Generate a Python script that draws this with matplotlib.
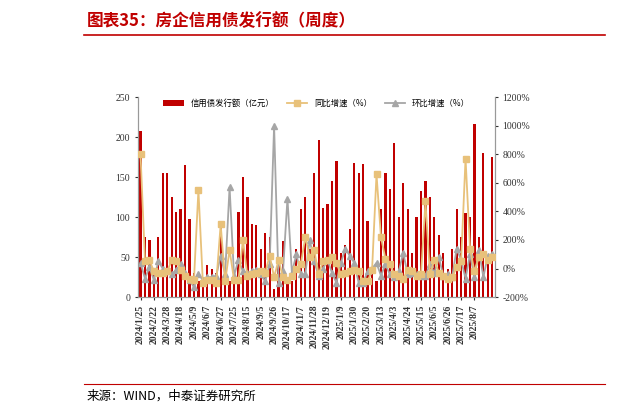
import matplotlib
matplotlib.use("Agg")
import matplotlib.pyplot as plt
import numpy as np
from matplotlib.ticker import FuncFormatter

plt.rcParams['font.family'] = ['Noto Sans CJK SC', 'DejaVu Sans']

tick_labels = ["2024/1/25","2024/2/22","2024/3/28","2024/4/18","2024/5/9","2024/6/7","2024/6/27","2024/7/25",
               "2024/8/15","2024/9/5","2024/9/26","2024/10/17","2024/11/7","2024/11/28","2024/12/19","2025/1/9",
               "2025/1/30","2025/2/20","2025/3/13","2025/4/3","2025/4/24","2025/5/15","2025/6/5","2025/6/26",
               "2025/7/17","2025/8/7"]
issuance = [208,75,72,30,75,155,155,125,107,110,
            165,98,30,20,22,40,35,30,90,20,
            20,25,107,150,125,92,90,60,80,75,
            10,50,70,25,20,60,110,125,60,155,
            197,112,117,145,170,55,65,85,168,155,
            167,95,37,20,110,155,135,193,100,143,
            110,55,100,133,145,125,100,78,55,35,
            60,110,75,105,100,217,75,180,50,175]
yoy = [800,50,60,-20,-30,-30,-20,60,50,-10,
       -50,-70,-80,550,-100,-80,-80,-100,310,-90,
       130,-80,-80,200,-50,-40,-30,-20,-30,90,
       -60,60,-60,-80,-50,0,30,220,80,130,
       -40,50,60,80,40,-40,-30,-20,-10,-20,
       -90,-90,-10,660,220,70,30,-40,-50,-70,
       -10,-20,-50,-40,470,-40,60,-30,-50,-70,
       -60,10,50,770,140,-20,80,100,60,80]
mom = [40,-70,10,-80,50,0,-20,-40,-10,30,
       -30,-80,-130,-40,-80,-60,-60,-50,90,-40,
       570,-50,60,-20,-30,-20,-10,-40,-90,30,
       1000,-100,-20,490,-30,100,-40,-40,200,50,
       -50,0,60,-30,-100,40,140,90,40,-100,
       -100,-20,0,40,-50,30,-40,-60,-20,110,
       -40,-30,-40,-50,-50,30,-30,80,-50,-40,
       -60,140,60,-70,100,-60,130,-60,90,100]

x = np.arange(len(issuance))
fig = plt.figure(figsize=(6.21, 4.15), dpi=100)
fig.text(0.14, 0.948, "图表35：房企信用债发行额（周度）", color="#C00000", fontsize=12,
         fontweight="bold", style="italic", va="center")
fig.add_artist(plt.Line2D([0.135, 0.975], [0.915, 0.915], color="#C00000", lw=1.2))
fig.add_artist(plt.Line2D([0.135, 0.975], [0.075, 0.075], color="#C00000", lw=0.8))
fig.text(0.14, 0.045, "来源：WIND，中泰证券研究所", fontsize=9, va="center")

ax = fig.add_axes([0.222, 0.284, 0.575, 0.482])
ax.bar(x, issuance, width=0.5, color="#C00000", label="信用债发行额（亿元）", zorder=1)
ax.set_ylim(0, 250)
ax.set_yticks(range(0, 251, 50))
ax.set_xlim(-0.6, len(x) - 0.4)
ax2 = ax.twinx()
ax2.plot(x, yoy, color="#E8C17A", marker="s", ms=4, lw=1.3, label="同比增速（%）", zorder=3)
ax2.plot(x, mom, color="#A6A6A6", marker="^", ms=4, lw=1.3, label="环比增速（%）", zorder=2)
ax2.set_ylim(-200, 1200)
ax2.set_yticks(range(-200, 1201, 200))
ax2.yaxis.set_major_formatter(FuncFormatter(lambda v, p: f"{int(v)}%"))
ax.set_xticks(x[::3][:len(tick_labels)])
ax.set_xticklabels(tick_labels, rotation=90, fontsize=6.5, family="Liberation Serif", fontweight="bold")
for a in (ax, ax2):
    a.tick_params(labelsize=7, length=2, colors="#333333")
    for s in a.spines.values():
        s.set_color("#999999")
    a.spines['top'].set_visible(False)
for lab in ax.get_yticklabels() + ax2.get_yticklabels():
    lab.set_family("Liberation Serif")

h1, l1 = ax.get_legend_handles_labels()
h2, l2 = ax2.get_legend_handles_labels()
ax2.legend(h1 + h2, l1 + l2, loc="upper center", bbox_to_anchor=(0.5, 1.03), ncol=3,
           frameon=False, fontsize=6, handlelength=2.5, columnspacing=1.5)
fig.savefig("out.png", dpi=100)
